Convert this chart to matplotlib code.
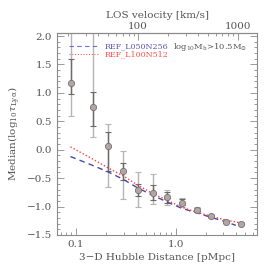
import numpy as np
import matplotlib
matplotlib.use("Agg")
import matplotlib.pyplot as plt
from matplotlib.ticker import FixedLocator, NullFormatter

plt.rcParams['font.family'] = ['DejaVu Serif']
plt.rcParams['mathtext.fontset'] = 'dejavuserif'

# Data
dist = [0.089, 0.149, 0.21, 0.297, 0.414, 0.585, 0.82, 1.15, 1.62, 2.27, 3.21, 4.5]
median = [1.17, 0.75, 0.07, -0.38, -0.71, -0.77, -0.84, -0.93, -1.06, -1.17, -1.27, -1.30]
inner_lo = [0.98, 0.41, -0.37, -0.54, -0.82, -0.88, -0.93, -0.97, -1.08, -1.19, -1.28, -1.31]
inner_hi = [1.60, 1.01, 0.32, -0.24, -0.60, -0.62, -0.75, -0.87, -1.03, -1.15, -1.25, -1.29]
outer_lo = [0.60, 0.23, -0.66, -0.87, -1.01, -0.95, -0.98, -1.00, -1.10, -1.20, -1.29, -1.32]
outer_hi = [2.50, 2.50, 0.46, -0.02, -0.39, -0.42, -0.70, -0.85, -1.01, -1.14, -1.24, -1.28]

dist_l050 = [0.088, 0.149, 0.21, 0.297, 0.414, 0.585, 0.82, 1.15, 1.62, 2.27, 3.21, 4.0]
med_l050 = [-0.12, -0.28, -0.39, -0.52, -0.67, -0.80, -0.92, -1.03, -1.11, -1.19, -1.27, -1.33]
dist_l100 = [0.088, 0.149, 0.21, 0.297, 0.414, 0.585, 0.82, 1.15, 1.62, 2.27, 3.21, 4.6]
med_l100 = [0.05, -0.17, -0.32, -0.46, -0.62, -0.77, -0.89, -1.01, -1.10, -1.17, -1.24, -1.29]

labels = ['REF_L050N256', 'REF_L100N512']
H_z = 238.0  # km/s/pMpc, for top axis

gray_txt = '#555555'
frame = '#8a8a8a'
blue = '#4848a8'
red = '#ff4040'

fig = plt.figure(figsize=(2.74, 2.72), dpi=100)
ax = fig.add_axes([57/274, 1-235/272, 200/274, 202/272])

d = np.array(dist); m = np.array(median)
ax.errorbar(d, m, yerr=[m-np.array(outer_lo), np.array(outer_hi)-m], fmt='none',
            ecolor='#b5b5b5', elinewidth=1.0, capsize=2, capthick=0.8, zorder=2)
ax.errorbar(d, m, yerr=[m-np.array(inner_lo), np.array(inner_hi)-m], fmt='none',
            ecolor='#6a6a6a', elinewidth=1.0, capsize=2, capthick=0.8, zorder=3)
ax.plot(dist_l050, med_l050, ls=(0, (4, 3)), color=blue, lw=1.0, zorder=4)
ax.plot(dist_l100, med_l100, ls=(0, (1, 1.5)), color=red, lw=1.0, zorder=4)
ax.plot(d, m, 'o', ms=4.5, mfc='#b0a6a6', mec='#7a7070', mew=0.6, zorder=5)

ax.set_xscale('log')
ax.set_xlim(0.0645, 6.53)
ax.set_ylim(-1.5, 2.053)
ax.set_xticks([0.1, 1.0])
ax.set_xticklabels(['0.1', '1.0'])
ax.set_yticks([-1.5, -1.0, -0.5, 0.0, 0.5, 1.0, 1.5, 2.0])
ax.set_yticklabels(['\u22121.5', '\u22121.0', '\u22120.5', '0.0', '0.5', '1.0', '1.5', '2.0'])
ax.yaxis.set_minor_locator(FixedLocator(np.arange(-1.5, 2.06, 0.1)))
ax.tick_params(which='both', direction='in', right=True, top=False, colors=frame,
               labelcolor=gray_txt, labelsize=7.5, width=0.6)
ax.tick_params(which='major', length=5)
ax.tick_params(which='minor', length=2.5)
for s in ax.spines.values():
    s.set_color(frame)
    s.set_linewidth(0.8)

ax.set_xlabel('3\u2212D Hubble Distance [pMpc]', color=gray_txt, fontsize=7.5, labelpad=3)
ax.set_ylabel(r'Median(log$_{10}\tau_{\rm Ly\alpha}$)', color=gray_txt, fontsize=7.5, labelpad=3)

sec = ax.secondary_xaxis('top', functions=(lambda x: x*H_z, lambda v: v/H_z))
sec.set_xticks([100, 1000])
sec.set_xticklabels(['100', '1000'])
sec.xaxis.set_minor_locator(FixedLocator([20, 30, 40, 50, 60, 70, 80, 90,
                                          200, 300, 400, 500, 600, 700, 800, 900, 2000]))
sec.xaxis.set_minor_formatter(NullFormatter())
sec.tick_params(which='both', direction='in', colors=frame, labelcolor=gray_txt,
                labelsize=7.5, width=0.6, pad=1.5)
sec.tick_params(which='major', length=5)
sec.tick_params(which='minor', length=2.5)
sec.spines['top'].set_color(frame)
sec.set_xlabel('LOS velocity [km/s]', color=gray_txt, fontsize=7.5, labelpad=3)

# legend
ax.plot([0.085, 0.172], [1.82, 1.82], ls=(0, (4, 3)), color='#7070c8', lw=0.8)
ax.plot([0.085, 0.172], [1.68, 1.68], ls=(0, (1, 1.5)), color='#ff6060', lw=0.8)
ax.text(0.193, 1.82, labels[0], color='#5a5ab0', fontsize=5.8, va='center', ha='left')
ax.text(0.193, 1.68, labels[1], color='#ff5050', fontsize=5.8, va='center', ha='left')
ax.text(0.93, 1.80, r'log$_{10}$M$_{\rm h}$>10.5M$_{\odot}$', color=gray_txt, fontsize=6,
        va='center', ha='left')

fig.savefig('out.png', dpi=100)
